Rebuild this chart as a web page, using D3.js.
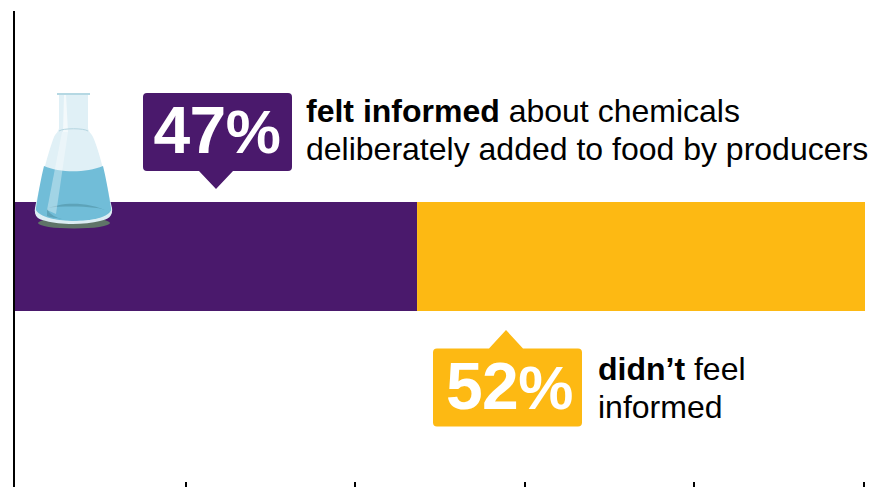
<!DOCTYPE html>
<html><head><meta charset="utf-8">
<script src="https://cdn.jsdelivr.net/npm/d3@7"></script>
<style>html,body{margin:0;padding:0;background:#fff}svg{display:block}text{font-family:"Liberation Sans",Arial,sans-serif}</style>
</head><body><svg id="c" width="887" height="487"></svg>
<script>
const categories = ["felt informed", "didn't feel informed"];
const values = [47.3, 52.7];
const labels = ["47", "52"];
const colors = ["#4a196c", "#fdb913"];
const axisTicks = [20, 40, 60, 80, 100];

const svg = d3.select("#c");
const x = d3.scaleLinear().domain([0, 100]).range([15, 865]);
const xTicks = d3.scaleLinear().domain([0, 100]).range([16.3, 864]);
const y = d3.scaleBand().domain(["all"]).range([202, 311]);

let cum = 0;
const stacked = values.map((v, i) => { const s = {c: categories[i], x0: cum, x1: cum + v, color: colors[i]}; cum += v; return s; });
svg.selectAll("rect.bar").data(stacked).join("rect").attr("class", "bar")
  .attr("x", d => x(d.x0)).attr("width", d => x(d.x1) - x(d.x0))
  .attr("y", y("all")).attr("height", y.bandwidth()).attr("fill", d => d.color);

// axes
svg.append("line").attr("x1", 14).attr("x2", 14).attr("y1", 11).attr("y2", 487).attr("stroke", "#000").attr("stroke-width", 2);
svg.selectAll("line.tick").data(axisTicks).join("line").attr("class", "tick")
  .attr("x1", d => Math.round(xTicks(d))).attr("x2", d => Math.round(xTicks(d))).attr("y1", 482).attr("y2", 487)
  .attr("stroke", "#000").attr("stroke-width", 2);

// callouts
function callout(bx, by, w, h, tipX, tipY, halfTip, fill, up) {
  const r = 4;
  const p = d3.path();
  p.moveTo(bx + r, by);
  if (up) { p.lineTo(tipX - halfTip, by); p.lineTo(tipX, tipY); p.lineTo(tipX + halfTip, by); }
  p.lineTo(bx + w - r, by); p.quadraticCurveTo(bx + w, by, bx + w, by + r);
  p.lineTo(bx + w, by + h - r); p.quadraticCurveTo(bx + w, by + h, bx + w - r, by + h);
  if (!up) { p.lineTo(tipX + halfTip, by + h); p.lineTo(tipX, tipY); p.lineTo(tipX - halfTip, by + h); }
  p.lineTo(bx + r, by + h); p.quadraticCurveTo(bx, by + h, bx, by + h - r);
  p.lineTo(bx, by + r); p.quadraticCurveTo(bx, by, bx + r, by);
  p.closePath();
  svg.append("path").attr("d", p.toString()).attr("fill", fill);
}
callout(143, 93, 149, 78, 216, 189, 17, colors[0], false);
callout(433, 348.5, 149, 78, 506, 330, 17, colors[1], true);

function pct(xp, yp, label) {
  const t = svg.append("text").attr("x", xp).attr("y", yp).attr("fill", "#fff").attr("font-weight", "bold").attr("font-size", 66);
  t.append("tspan").attr("letter-spacing", -0.6).text(label);
  t.append("tspan").attr("font-size", 62).text("%");
}
pct(153.5, 153, labels[0]);
pct(446, 409, labels[1]);

function rich(xp, yp, parts) {
  const t = svg.append("text").attr("x", xp).attr("y", yp).attr("font-size", 32).attr("fill", "#000");
  parts.forEach(([s, b]) => t.append("tspan").attr("font-weight", b ? "bold" : "normal").text(s));
}
rich(306, 122, [["felt informed", true], [" about chemicals", false]]);
rich(306, 160, [["deliberately added to food by producers", false]]);
rich(598, 380, [["didn\u2019t", true], [" feel", false]]);
rich(598, 418, [["informed", false]]);

// flask
const f = svg.append("g");
f.append("ellipse").attr("cx", 74).attr("cy", 223).attr("rx", 36).attr("ry", 5.5).attr("fill", "#5f7468");
const body = "M59 94 L88 94 L88 128 C88 131 91 133 93 137 C100 152 107 185 112 208 C113 215 108 218 100 220 C85 224 60 224 46 220 C38 218 34 215 35 208 C40 185 48 152 54 137 C56 133 59 131 59 128 Z";
f.append("path").attr("d", body).attr("fill", "#e0f0f6");
f.append("path").attr("d", "M44 166 C60 173 86 173 103 166 C106 178 109 195 111 208 C112 214 107 216 100 218 C85 222 60 222 46 218 C39 216 35 214 36 208 C38 195 41 178 44 166 Z").attr("fill", "#71bdd8");
f.append("path").attr("d", "M47 209 C60 202 88 201 109 212 C100 219 60 221 47 216 Z").attr("fill", "#5da3b9");
f.append("path").attr("d", "M47 208 C70 205 100 207 109 211 C108 217 100 219 88 220 C70 222 50 219 47 208 Z").attr("fill", "#71bdd8");
f.append("path").attr("d", "M35 208 C38 218 60 221 74 221 C90 221 110 218 112 208 C113 217 108 219 100 221 C85 225 60 225 46 221 C38 219 34 217 35 208 Z").attr("fill", "#dcedf3");
f.append("path").attr("d", "M62 132 L68 132 L56 214 L47 210 Z").attr("fill", "#fff").attr("opacity", 0.35);
f.append("path").attr("d", "M64 94 L66 94 L68 132 L63 132 Z").attr("fill", "#fff").attr("opacity", 0.6);
f.append("path").attr("d", "M59 131 C63 128 84 128 88 131").attr("stroke", "#b5d5e0").attr("fill", "none");
f.append("rect").attr("x", 57).attr("y", 93).attr("width", 33).attr("height", 2).attr("fill", "#b5d8e3");
</script></body></html>
